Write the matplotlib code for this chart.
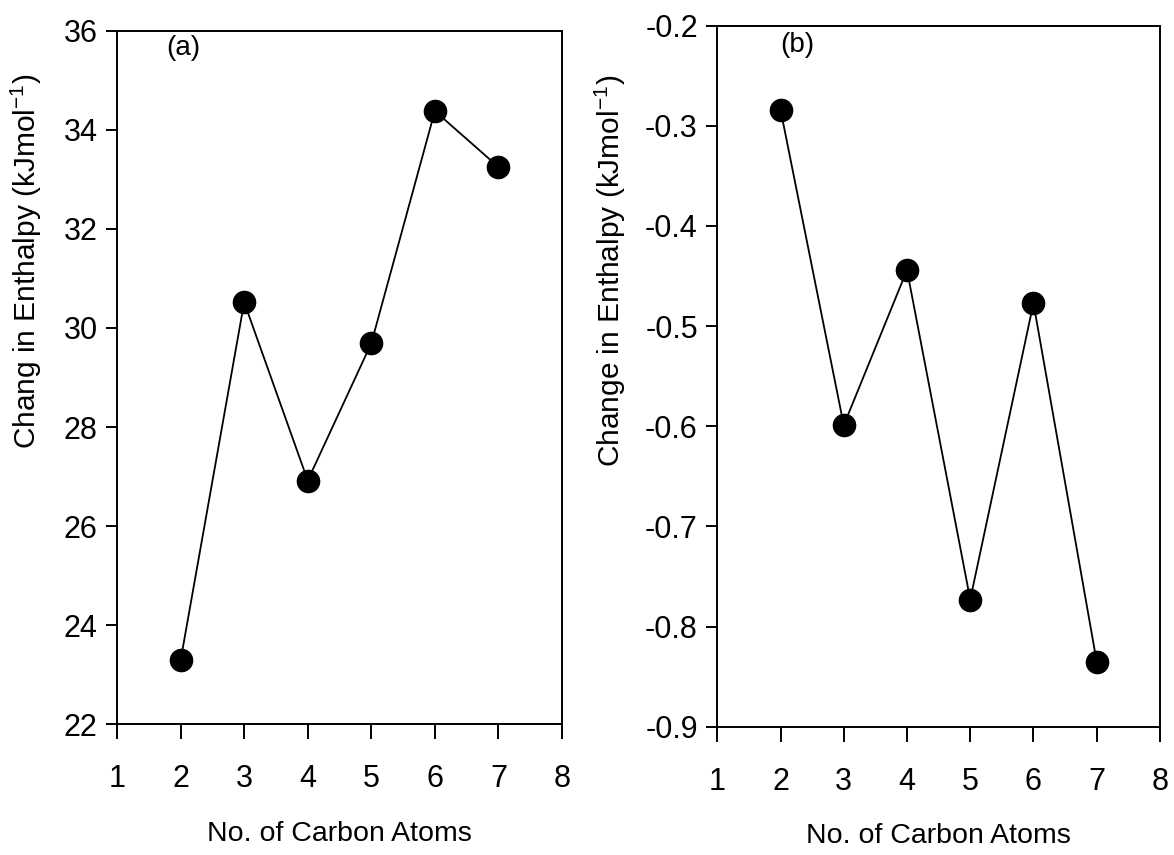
import matplotlib
matplotlib.use('Agg')
import matplotlib.pyplot as plt

# данные
carbon_atoms = [2, 3, 4, 5, 6, 7]
enthalpy_a = [23.29, 30.52, 26.92, 29.69, 34.38, 33.25]
enthalpy_b = [-0.284, -0.599, -0.444, -0.773, -0.477, -0.835]
x_ticks = [1, 2, 3, 4, 5, 6, 7, 8]
y_ticks_a = [22, 24, 26, 28, 30, 32, 34, 36]
y_ticks_b = [-0.9, -0.8, -0.7, -0.6, -0.5, -0.4, -0.3, -0.2]

plt.rcParams['font.family'] = ['Liberation Sans', 'DejaVu Sans']
plt.rcParams['mathtext.fontset'] = 'custom'
plt.rcParams['mathtext.rm'] = 'Liberation Sans'
plt.rcParams['axes.unicode_minus'] = False

fig = plt.figure(figsize=(11.74, 8.55), dpi=100)
ax1 = fig.add_axes([0.0997, 0.153, 0.379, 0.811])
ax2 = fig.add_axes([0.611, 0.150, 0.377, 0.820])


def style_axis(ax, yticks, ylabels):
    for s in ax.spines.values():
        s.set_linewidth(1.4)
    ax.set_xlim(1, 8)
    ax.set_xticks(x_ticks)
    ax.set_yticks(yticks)
    ax.set_yticklabels(ylabels)
    ax.tick_params(axis='x', direction='out', length=11, width=1.4,
                   pad=18, labelsize=22)
    ax.tick_params(axis='y', direction='out', length=8, width=1.4,
                   pad=6, labelsize=22)
    ax.set_xlabel('No. of Carbon Atoms', fontsize=20.5, labelpad=19)


# (a)
ax1.plot(carbon_atoms, enthalpy_a, color='black', lw=1.3,
         marker='o', ms=16, mfc='black', mec='black')
ax1.set_ylim(22, 36)
style_axis(ax1, y_ticks_a, [str(v) for v in y_ticks_a])
ax1.set_ylabel('Chang in Enthalpy (kJmol$^{\\mathregular{-1}}$)', fontsize=21.5)
ax1.yaxis.set_label_coords(-0.164, 0.667)
ax1.text(0.15, 0.975, '(a)', transform=ax1.transAxes, fontsize=20,
         ha='center', va='center')

# (b)
ax2.plot(carbon_atoms, enthalpy_b, color='black', lw=1.3,
         marker='o', ms=16, mfc='black', mec='black')
ax2.set_ylim(-0.9, -0.2)
style_axis(ax2, y_ticks_b, ['%.1f' % v for v in y_ticks_b])
ax2.set_ylabel('Change in Enthalpy (kJmol$^{\\mathregular{-1}}$)', fontsize=21.5)
ax2.yaxis.set_label_coords(-0.201, 0.65)
ax2.text(0.18, 0.973, '(b)', transform=ax2.transAxes, fontsize=20,
         ha='center', va='center')

plt.savefig('out.png', dpi=100)
